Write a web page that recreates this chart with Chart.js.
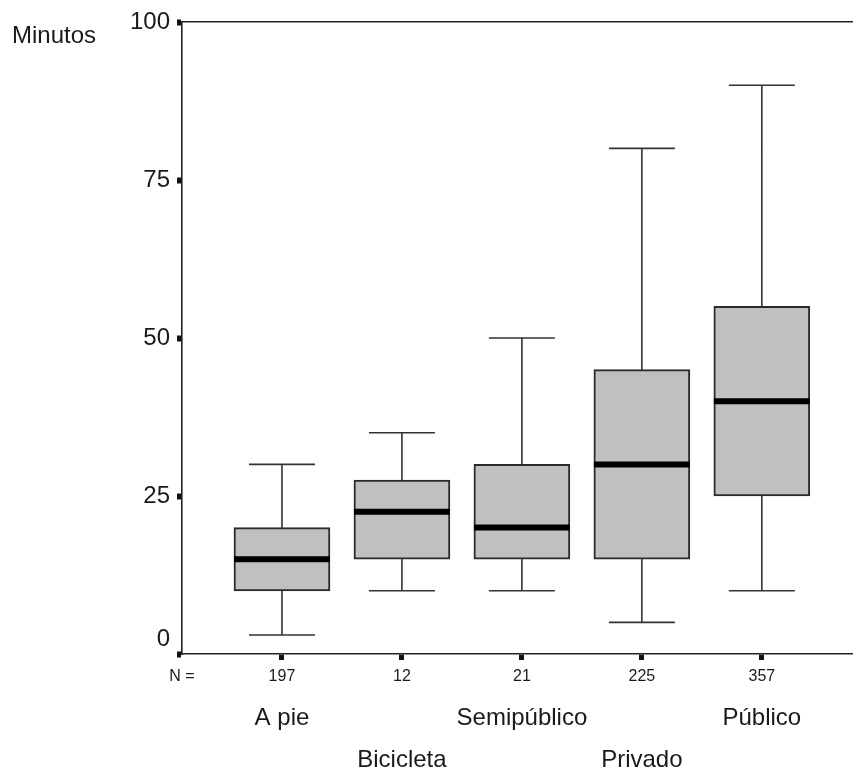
<!DOCTYPE html>
<html>
<head>
<meta charset="utf-8">
<script src="https://cdn.jsdelivr.net/npm/chart.js@4/dist/chart.umd.min.js"></script>
<style>
  html, body { margin: 0; padding: 0; background: #fff; }
  canvas { display: block; }
</style>
</head>
<body>
<canvas id="boxChart" width="853" height="768"></canvas>
<script>
// data
const categories = ['A pie', 'Bicicleta', 'Semipúblico', 'Privado', 'Público'];
const nCounts = ['197', '12', '21', '225', '357'];
const whiskerLow = [3, 10, 10, 5, 10];
const q1 = [10, 15, 15, 15, 25];
const median = [15, 22.5, 20, 30, 40];
const q3 = [20, 27.5, 30, 45, 55];
const whiskerHigh = [30, 35, 50, 80, 90];
const yTicks = [0, 25, 50, 75, 100];

const FONT = "'Liberation Sans', Arial, sans-serif";
const INK = '#1a1a1a';
const boxHalf = 0.4;
const capHalf = 0.275;
const xMin = -0.8333;
const xMax = 4.76;

document.addEventListener('DOMContentLoaded', () => {
  chartInit();
});

function chartInit() {
  const canvas = document.getElementById('boxChart');

  const boxes = categories.map((c, i) => ({ x: i, y: [q1[i], q3[i]] }));
  const whiskers = categories.flatMap((c, i) => [
    { x: i, y: whiskerLow[i] },
    { x: i, y: whiskerHigh[i] },
    { x: i, y: null }
  ]);
  const caps = categories.flatMap((c, i) => [
    { x: i - capHalf, y: whiskerHigh[i] },
    { x: i + capHalf, y: whiskerHigh[i] },
    { x: i, y: null },
    { x: i - capHalf, y: whiskerLow[i] },
    { x: i + capHalf, y: whiskerLow[i] },
    { x: i, y: null }
  ]);
  const medians = categories.flatMap((c, i) => [
    { x: i - boxHalf, y: median[i] },
    { x: i + boxHalf, y: median[i] },
    { x: i, y: null }
  ]);

  // y axis title sits beside the top tick, not rotated
  const yTitle = {
    id: 'yTitle',
    afterDraw(chart) {
      const ctx = chart.ctx;
      const y = chart.scales.y.getPixelForValue(100);
      ctx.save();
      ctx.font = `24px ${FONT}`;
      ctx.fillStyle = INK;
      ctx.textAlign = 'left';
      ctx.textBaseline = 'alphabetic';
      ctx.fillText('Minutos', 12, y + 21);
      ctx.restore();
    }
  };

  const lineDefaults = {
    type: 'line',
    pointRadius: 0,
    pointHoverRadius: 0,
    spanGaps: false,
    tension: 0,
    fill: false,
    borderCapStyle: 'butt'
  };

  new Chart(canvas, {
    type: 'bar',
    data: {
      datasets: [
        {
          ...lineDefaults,
          label: 'whiskers',
          data: whiskers,
          borderColor: '#333',
          borderWidth: 1.6,
          order: 3
        },
        {
          ...lineDefaults,
          label: 'caps',
          data: caps,
          borderColor: '#333',
          borderWidth: 1.6,
          order: 3
        },
        {
          label: 'boxes',
          data: boxes,
          backgroundColor: '#c0c0c0',
          borderColor: '#2a2a2a',
          borderWidth: 2,
          borderSkipped: false,
          barThickness: 96,
          order: 2
        },
        {
          ...lineDefaults,
          label: 'median',
          data: medians,
          borderColor: '#000',
          borderWidth: 6,
          order: 1
        }
      ]
    },
    options: {
      responsive: false,
      animation: false,
      layout: { padding: 0 },
      scales: {
        x: {
          type: 'linear',
          position: 'bottom',
          min: xMin,
          max: xMax,
          offset: false,
          afterBuildTicks: (axis) => {
            axis.ticks = [xMin, 0, 1, 2, 3, 4].map(v => ({ value: v }));
          },
          afterFit: (axis) => { axis.height = 35; },
          ticks: {
            autoSkip: false,
            maxRotation: 0,
            padding: 7,
            color: INK,
            font: { family: FONT, size: 16 },
            callback: (value, index) => index === 0 ? 'N =' : nCounts[index - 1]
          },
          grid: {
            display: true,
            offset: false,
            drawOnChartArea: false,
            tickLength: 6,
            tickWidth: 5,
            tickColor: (ctx) => ctx.index === 0 ? 'rgba(0,0,0,0)' : '#111'
          },
          border: { display: true, color: '#222', width: 1.6 }
        },
        xCat: {
          type: 'linear',
          position: 'bottom',
          min: xMin,
          max: xMax,
          offset: false,
          afterBuildTicks: (axis) => {
            axis.ticks = categories.map((c, i) => ({ value: i }));
          },
          afterFit: (axis) => { axis.height = 79; },
          ticks: {
            autoSkip: false,
            maxRotation: 0,
            padding: 0,
            color: INK,
            font: { family: FONT, size: 24, lineHeight: 1.75 },
            callback: (value, index) => index % 2 === 0 ? categories[index] : ['', categories[index]]
          },
          grid: { display: false, offset: false },
          border: { display: false }
        },
        xTop: {
          type: 'linear',
          position: 'top',
          min: xMin,
          max: xMax,
          afterFit: (axis) => { axis.height = 22; },
          ticks: { display: false },
          grid: { display: false, offset: false },
          border: { display: true, color: '#222', width: 1.6 }
        },
        y: {
          type: 'linear',
          position: 'left',
          min: 0,
          max: 100,
          afterBuildTicks: (axis) => {
            axis.ticks = yTicks.map(v => ({ value: v }));
          },
          afterFit: (axis) => { axis.width = 182; },
          ticks: {
            padding: 7,
            color: INK,
            font: { family: FONT, size: 24 },
            callback: (value) => value === 0 ? ['0', ''] : String(value)
          },
          grid: {
            display: true,
            drawOnChartArea: false,
            tickLength: 5,
            tickWidth: 6,
            tickColor: '#111'
          },
          border: { display: true, color: '#222', width: 1.6 }
        }
      },
      plugins: {
        legend: { display: false },
        tooltip: { enabled: false }
      }
    },
    plugins: [yTitle]
  });
}
</script>
</body>
</html>
